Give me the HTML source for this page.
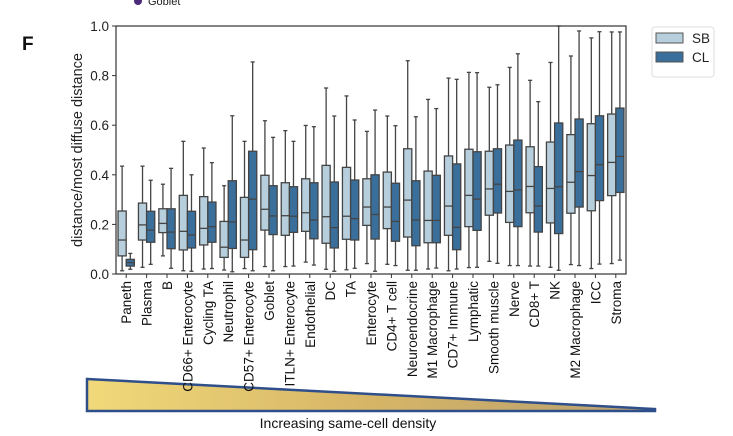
<!DOCTYPE html>
<html><head><meta charset="utf-8"><style>
html,body{margin:0;padding:0;background:#fff;width:733px;height:436px;overflow:hidden;font-family:"Liberation Sans",sans-serif}
</style></head><body>
<svg id="chart" width="733" height="436" xmlns="http://www.w3.org/2000/svg" font-family="Liberation Sans, sans-serif">
<defs><linearGradient id="tri" x1="0" x2="1" y1="0" y2="0"><stop offset="0" stop-color="#f1d97a"/><stop offset="0.5" stop-color="#d6b566"/><stop offset="1" stop-color="#b8a070"/></linearGradient></defs>
<circle cx="138" cy="1" r="4" fill="#4b2a7a"/>
<text x="148" y="5" font-size="11" fill="#222">Goblet</text>
<text x="22" y="50" font-size="19" font-weight="bold" fill="#111">F</text>
<polygon points="87,379 655,409 655,411 87,411" fill="url(#tri)" stroke="#2f4f8a" stroke-width="2.5"/>
<g id="plot"></g>
<g>
<rect x="652" y="27" width="62" height="50" rx="3" fill="#fff" stroke="#ddd"/>
<rect x="656" y="33" width="27" height="10" fill="#b7cfdc" stroke="#555"/>
<text x="692" y="43" font-size="13.5" fill="#222">SB</text>
<rect x="656" y="52" width="27" height="10" fill="#3a6f9c" stroke="#555"/>
<text x="692" y="62" font-size="13.5" fill="#222">CL</text>
</g>
<text x="348" y="428" font-size="14" text-anchor="middle" fill="#111">Increasing same-cell density</text>
</svg>
<script>
const categories=["Paneth","Plasma","B","CD66+ Enterocyte","Cycling TA","Neutrophil","CD57+ Enterocyte","Goblet","ITLN+ Enterocyte","Endothelial","DC","TA","Enterocyte","CD4+ T cell","Neuroendocrine","M1 Macrophage","CD7+ Immune","Lymphatic","Smooth muscle","Nerve","CD8+ T","NK","M2 Macrophage","ICC","Stroma"];
// [low, q1, median, q3, high]
const sbStats=[[0.013,0.073,0.137,0.254,0.435],[0.027,0.137,0.198,0.286,0.435],[0.073,0.167,0.204,0.263,0.362],[0.013,0.097,0.172,0.317,0.535],[0.02,0.117,0.184,0.312,0.508],[0.016,0.067,0.108,0.212,0.356],[0.022,0.067,0.137,0.309,0.535],[0.03,0.177,0.261,0.398,0.618],[0.03,0.156,0.235,0.368,0.578],[0.048,0.172,0.247,0.384,0.599],[0.019,0.124,0.231,0.438,0.75],[0.017,0.14,0.233,0.43,0.718],[0.042,0.196,0.27,0.384,0.575],[0.039,0.183,0.27,0.411,0.637],[0.015,0.149,0.298,0.505,0.86],[0.02,0.126,0.216,0.415,0.704],[0.013,0.156,0.274,0.476,0.79],[0.026,0.191,0.317,0.503,0.813],[0.051,0.237,0.343,0.495,0.753],[0.034,0.208,0.333,0.52,0.833],[0.032,0.247,0.353,0.513,0.781],[0.027,0.206,0.345,0.532,0.853],[0.038,0.245,0.37,0.562,0.879],[0.022,0.255,0.397,0.606,0.952],[0.042,0.316,0.45,0.645,0.976]];
const clStats=[[0.019,0.032,0.046,0.059,0.083],[0.039,0.128,0.177,0.253,0.378],[0.023,0.102,0.169,0.263,0.426],[0.011,0.105,0.157,0.253,0.4],[0.022,0.128,0.191,0.29,0.449],[0.009,0.103,0.21,0.376,0.638],[0.013,0.098,0.302,0.495,0.855],[0.013,0.159,0.234,0.356,0.551],[0.032,0.168,0.233,0.352,0.535],[0.036,0.142,0.218,0.368,0.594],[0.011,0.105,0.187,0.371,0.637],[0.023,0.137,0.223,0.379,0.621],[0.011,0.141,0.24,0.4,0.661],[0.034,0.132,0.212,0.366,0.598],[0.015,0.114,0.218,0.376,0.634],[0.024,0.126,0.216,0.398,0.667],[0.02,0.098,0.188,0.444,0.785],[0.027,0.176,0.302,0.493,0.812],[0.043,0.246,0.362,0.505,0.763],[0.034,0.191,0.339,0.54,0.888],[0.032,0.169,0.274,0.433,0.695],[0.015,0.163,0.352,0.609,1.05],[0.034,0.27,0.413,0.625,0.98],[0.04,0.296,0.441,0.638,0.977],[0.056,0.329,0.474,0.669,0.976]];
const yTicks=[0,0.2,0.4,0.6,0.8,1.0];
const yTickLabels=["0.0","0.2","0.4","0.6","0.8","1.0"];

const NS="http://www.w3.org/2000/svg";
const L=116,R=626,T=26,B=274;
const n=categories.length, bw=(R-L)/n;
function y(v){return B-(Math.min(v,1.0)-0)*(B-T);}
function xc(i){return L+bw*(i+0.5);}
const g=document.getElementById('plot');
function mk(tag,attrs,parent){const e=document.createElementNS(NS,tag);for(const k in attrs)e.setAttribute(k,attrs[k]);(parent||g).appendChild(e);return e;}

yTicks.forEach((t,i)=>{
  const tk=mk('line',{x1:L-4,x2:L,y1:y(t),y2:y(t),stroke:'#333','stroke-width':1});
  
  
  const tl=mk('text',{x:L-7,y:y(t)+5,'font-size':13.5,'text-anchor':'end',fill:'#222'});
  tl.textContent=yTickLabels[i];
  
  
});
const yt=mk('text',{x:0,y:0,'font-size':14.5,'text-anchor':'middle',fill:'#222',transform:'translate(82,150) rotate(-90)'});
yt.textContent='distance/most diffuse distance';



function drawBox(s,cx,w,fill,name){
  const grp=mk('g',{});
  
  
  const st={stroke:'#444','stroke-width':1.3};
  mk('line',Object.assign({x1:cx,x2:cx,y1:y(s[0]),y2:y(s[1])},st),grp);
  mk('line',Object.assign({x1:cx,x2:cx,y1:y(s[3]),y2:y(s[4])},st),grp);
  mk('line',Object.assign({x1:cx-w/4,x2:cx+w/4,y1:y(s[0]),y2:y(s[0])},st),grp);
  mk('line',Object.assign({x1:cx-w/4,x2:cx+w/4,y1:y(s[4]),y2:y(s[4])},st),grp);
  mk('rect',Object.assign({x:cx-w/2,y:y(s[3]),width:w,height:y(s[1])-y(s[3]),fill:fill},st),grp);
  mk('line',Object.assign({x1:cx-w/2,x2:cx+w/2,y1:y(s[2]),y2:y(s[2])},st),grp);
}
const w=bw*0.4;
categories.forEach((c,i)=>{
  drawBox(sbStats[i],xc(i)-w/2,w,'#b7cfdc','box-sb');
  drawBox(clStats[i],xc(i)+w/2,w,'#3a6f9c','box-cl');
  const tk=mk('line',{x1:xc(i),x2:xc(i),y1:B,y2:B+4,stroke:'#333'});
  
  
  const tl=mk('text',{x:0,y:0,'font-size':13.5,'text-anchor':'end',fill:'#111',transform:`translate(${xc(i)+5},${B+7}) rotate(-90)`});
  tl.textContent=c;
  
  
});
const fr=mk('rect',{x:L,y:T,width:R-L,height:B-T,fill:'none',stroke:'#333','stroke-width':1.2});


</script>
</body></html>
